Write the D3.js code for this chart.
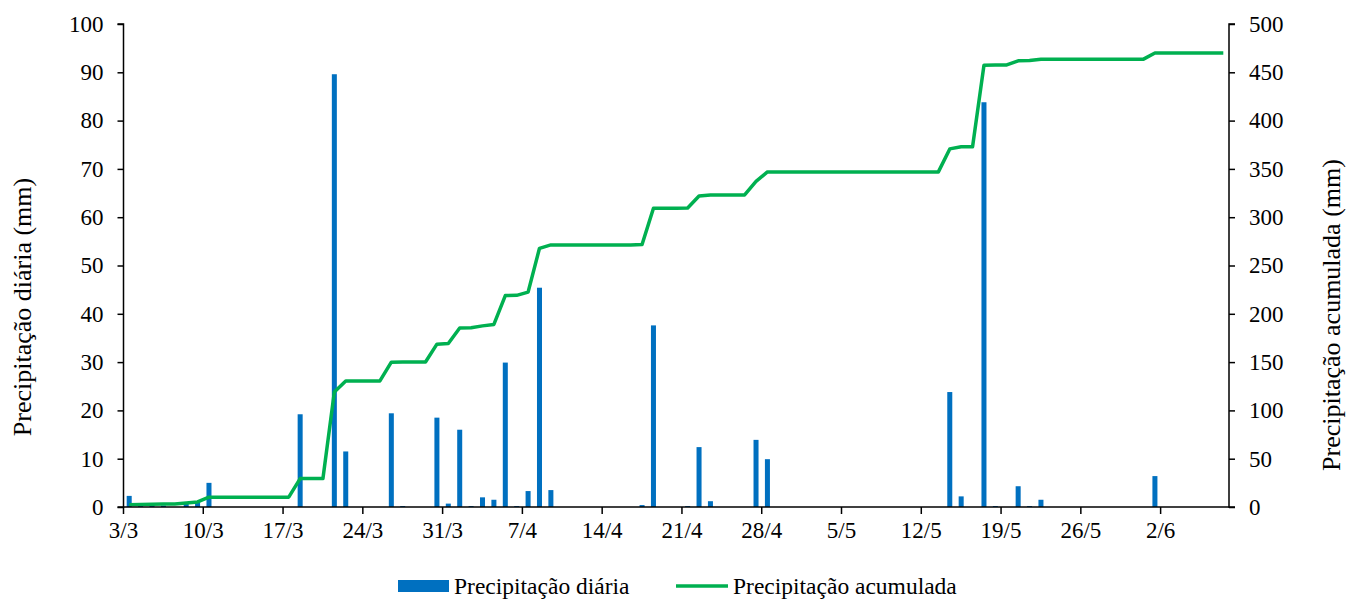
<!DOCTYPE html>
<html>
<head>
<meta charset="utf-8">
<script src="https://cdn.jsdelivr.net/npm/d3@7"></script>
<style>
  body { margin: 0; background: #fff; }
  svg text { fill: #000; }
</style>
</head>
<body>
<svg id="chart" width="1348" height="599"></svg>
<script>
// one entry per day, 3/3 .. 7/6
var startDay = new Date(2000, 2, 3);
var endDay = new Date(2000, 5, 8);

var dailyRain = [
  2.3, 0.2, 0.4, 0.3, 0, 1.0, 1.0, 5.0, 0, 0,
  0, 0, 0, 0, 0, 19.2, 0, 0, 89.6, 11.5,
  0, 0, 0, 19.4, 0.2, 0, 0, 18.5, 0.7, 16.0,
  0.2, 2.0, 1.5, 29.9, 0.2, 3.3, 45.4, 3.5, 0, 0,
  0, 0, 0, 0, 0, 0.4, 37.6, 0, 0, 0.2,
  12.4, 1.2, 0, 0, 0, 13.9, 9.9, 0, 0, 0,
  0, 0, 0, 0, 0, 0, 0, 0, 0, 0,
  0, 0, 23.8, 2.2, 0, 83.8, 0.2, 0, 4.3, 0.2,
  1.5, 0, 0, 0, 0, 0, 0, 0, 0, 0,
  6.4, 0, 0, 0, 0, 0, 0
];

var cumulativeRain = [
  2.3, 2.5, 2.9, 3.2, 3.2, 4.2, 5.2, 10.2, 10.2, 10.2,
  10.2, 10.2, 10.2, 10.2, 10.2, 29.4, 29.4, 29.4, 119.0, 130.5,
  130.5, 130.5, 130.5, 149.9, 150.1, 150.1, 150.1, 168.6, 169.3, 185.3,
  185.5, 187.5, 189.0, 218.9, 219.1, 222.4, 267.8, 271.3, 271.3, 271.3,
  271.3, 271.3, 271.3, 271.3, 271.3, 271.7, 309.3, 309.3, 309.3, 309.5,
  321.9, 323.1, 323.1, 323.1, 323.1, 337.0, 346.9, 346.9, 346.9, 346.9,
  346.9, 346.9, 346.9, 346.9, 346.9, 346.9, 346.9, 346.9, 346.9, 346.9,
  346.9, 346.9, 370.7, 372.9, 372.9, 457.4, 457.6, 457.6, 461.9, 462.1,
  463.6, 463.6, 463.6, 463.6, 463.6, 463.6, 463.6, 463.6, 463.6, 463.6,
  470.0, 470.0, 470.0, 470.0, 470.0, 470.0, 470.0
];

var xTickLabels = ["3/3", "10/3", "17/3", "24/3", "31/3", "7/4", "14/4", "21/4", "28/4", "5/5", "12/5", "19/5", "26/5", "2/6"];
var leftTicks = [0, 10, 20, 30, 40, 50, 60, 70, 80, 90, 100];
var rightTicks = [0, 50, 100, 150, 200, 250, 300, 350, 400, 450, 500];

var serif = "Liberation Serif";
var fmt = d3.timeFormat("%-d/%-m");
var days = d3.timeDay.range(startDay, endDay).map(fmt);

var svg = d3.select("#chart").attr("font-family", serif);
var plotLeft = 123.5, plotRight = 1229, plotTop = 24, plotBottom = 507;

var x = d3.scaleBand().domain(days).range([plotLeft, plotRight]).padding(0);
var yL = d3.scaleLinear().domain([0, 100]).range([plotBottom, plotTop]);
var yR = d3.scaleLinear().domain([0, 500]).range([plotBottom, plotTop]);

// bars
var barW = x.bandwidth() * 0.44;
svg.append("g").selectAll("rect")
  .data(dailyRain.map(function (v, i) { return { d: days[i], v: v }; }).filter(function (o) { return o.v > 0; }))
  .enter().append("rect")
  .attr("x", function (o) { return x(o.d) + x.bandwidth() / 2 - barW / 2; })
  .attr("y", function (o) { return yL(o.v); })
  .attr("width", barW)
  .attr("height", function (o) { return plotBottom - yL(o.v); })
  .attr("fill", "#0070C0");

// cumulative line
var line = d3.line()
  .x(function (v, i) { return x(days[i]) + x.bandwidth() / 2; })
  .y(function (v) { return yR(v); });
svg.append("path")
  .datum(cumulativeRain)
  .attr("d", line)
  .attr("fill", "none")
  .attr("stroke", "#00B050")
  .attr("stroke-width", 3.5)
  .attr("stroke-linejoin", "round");

// axes
var axL = svg.append("g").attr("transform", "translate(" + plotLeft + ",0)")
  .call(d3.axisLeft(yL).tickValues(leftTicks).tickSize(6).tickPadding(14));
var axR = svg.append("g").attr("transform", "translate(" + plotRight + ",0)")
  .call(d3.axisRight(yR).tickValues(rightTicks).tickSize(6).tickPadding(14));
var xAxis = d3.axisBottom(x)
  .tickValues(xTickLabels)
  .tickSize(7).tickPadding(8);
var axX = svg.append("g").attr("transform", "translate(0," + plotBottom + ")").call(xAxis);
// ticks sit on the start of each day slot
axX.selectAll(".tick").attr("transform", function (d) { return "translate(" + x(d) + ",0)"; });

[axL, axR, axX].forEach(function (g) {
  g.attr("font-family", serif).attr("font-size", 23);
  g.selectAll("path.domain").attr("stroke", "#000").attr("stroke-width", 1.5);
  g.selectAll(".tick line").attr("stroke", "#000").attr("stroke-width", 1.5);
});
axL.select("path.domain").attr("d", "M-6," + plotTop + "H0V" + plotBottom + "H-6");
axR.select("path.domain").attr("d", "M6," + plotTop + "H0V" + plotBottom + "H6");
axX.select("path.domain").attr("d", "M" + plotLeft + ",0H" + plotRight);

// axis titles
svg.append("text")
  .attr("transform", "translate(31,307) rotate(-90)")
  .attr("text-anchor", "middle")
  .attr("font-size", 26)
  .text("Precipitação diária (mm)");
svg.append("text")
  .attr("transform", "translate(1340,315) rotate(-90)")
  .attr("text-anchor", "middle")
  .attr("font-size", 26)
  .text("Precipitação acumulada (mm)");

// legend
var lg = svg.append("g").attr("font-size", 23.5);
lg.append("rect").attr("x", 398).attr("y", 580).attr("width", 51).attr("height", 12).attr("fill", "#0070C0");
lg.append("text").attr("x", 454).attr("y", 594).text("Precipitação diária");
lg.append("line").attr("x1", 676).attr("x2", 728).attr("y1", 586).attr("y2", 586)
  .attr("stroke", "#00B050").attr("stroke-width", 3.5);
lg.append("text").attr("x", 733).attr("y", 594).text("Precipitação acumulada");
</script>
</body>
</html>
